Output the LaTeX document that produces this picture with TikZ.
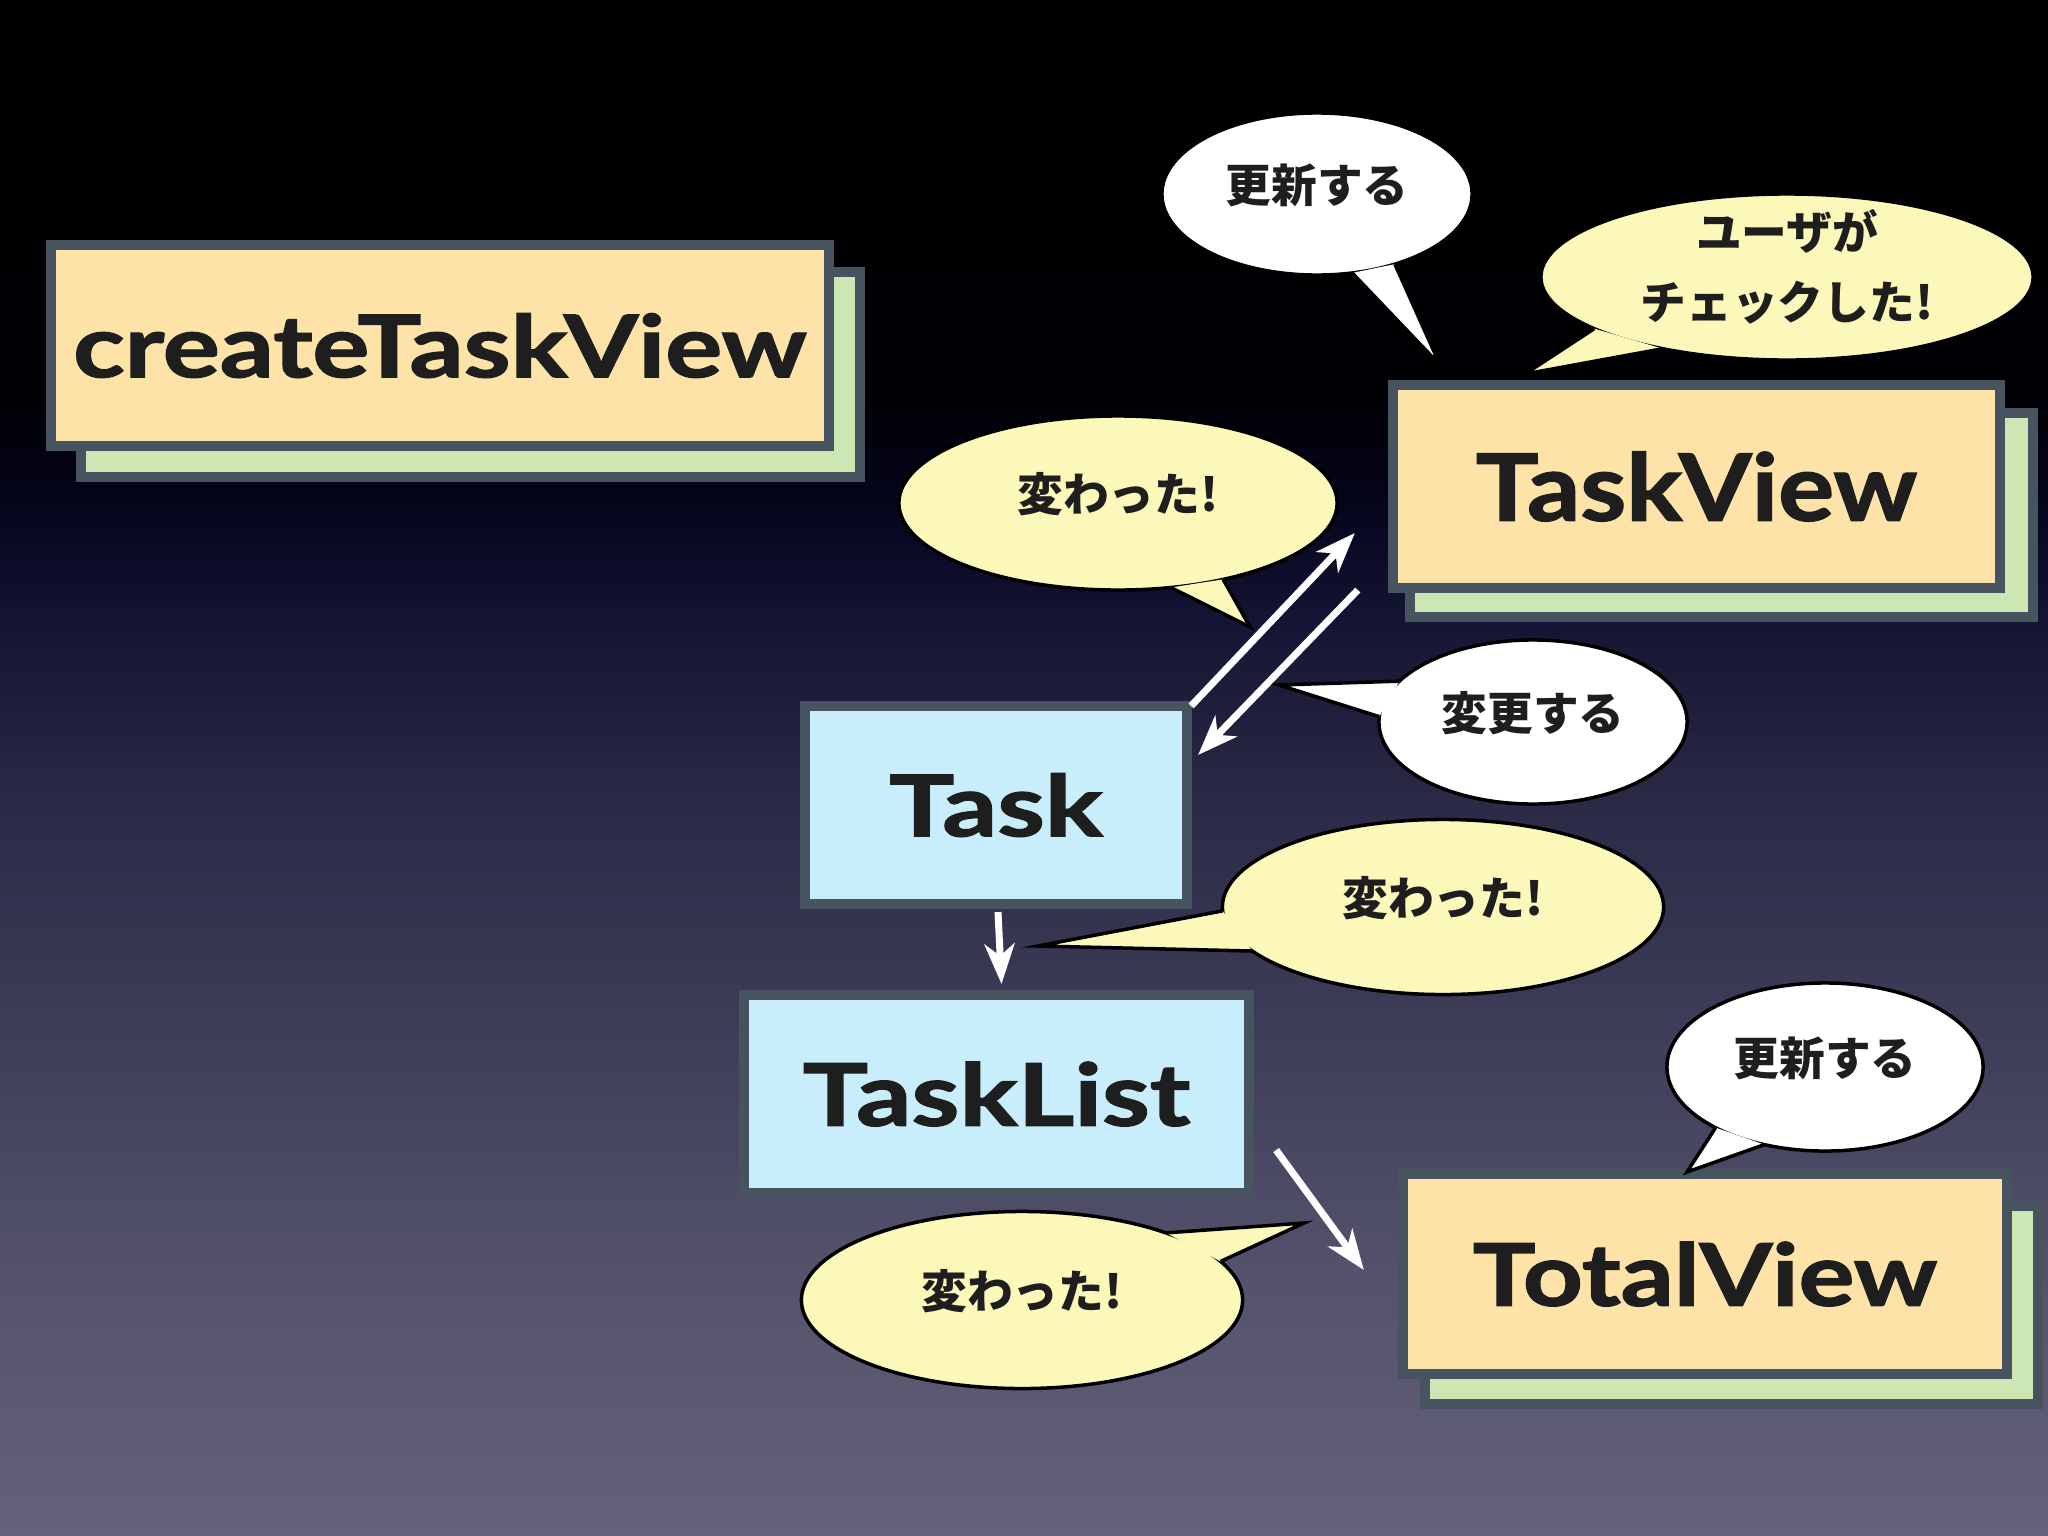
\documentclass[tikz,border=0pt]{standalone}
\usepackage{fontspec}
\usetikzlibrary{shapes.geometric,arrows.meta}
\newfontfamily\jpfont{Noto Sans CJK JP}
\newfontfamily\boxfont{Lato}[BoldFeatures={FakeBold=1.5}]
\newcommand\blabel[3]{\resizebox{#1}{#2}{\boxfont\bfseries #3}}
\definecolor{bgA}{HTML}{64627A}
\definecolor{bgB}{HTML}{56546D}
\definecolor{bgC}{HTML}{403F5A}
\definecolor{bgD}{HTML}{2A2A46}
\definecolor{bgE}{HTML}{131333}
\definecolor{bgF}{HTML}{05051C}
\definecolor{bgG}{HTML}{000005}
\definecolor{peach}{HTML}{FDE3A7}
\definecolor{mint}{HTML}{CDE7B4}
\definecolor{skyblue}{HTML}{C9EEFB}
\definecolor{boxline}{HTML}{47535E}
\definecolor{cream}{HTML}{FCF8BA}
\definecolor{ink}{HTML}{1E1E1E}
\pgfdeclareverticalshading{bgshade}{100bp}{color(0bp)=(bgA); color(25bp)=(bgA); color(32.7bp)=(bgB); color(40.8bp)=(bgC); color(49bp)=(bgD); color(55bp)=(bgE); color(58.6bp)=(bgF); color(62bp)=(bgG); color(75bp)=(black); color(100bp)=(black)}
\begin{document}
\begin{tikzpicture}[x=0.01cm,y=-0.01cm,
  boxbase/.style={rectangle, draw=boxline, line width=0.1cm, inner sep=0pt, text=ink},
  frontbox/.style={boxbase, fill=peach},
  backbox/.style={boxbase, fill=mint},
  bluebox/.style={boxbase, fill=skyblue},
  bubble/.style={ellipse, draw=black, line width=0.035cm, inner sep=0pt, outer sep=0pt},
  bubbleline/.style={draw=black, line width=0.035cm, line join=miter},
  btext/.style={text=ink, font=\jpfont\bfseries\fontsize{13pt}{20pt}\selectfont, align=center, inner sep=0pt},
  conn/.style={draw=white, line width=0.07cm, -{Stealth[length=0.4cm,width=0.3cm,inset=0.12cm]}}]
\useasboundingbox (0,0) rectangle (2048,1536);
\shade[shading=bgshade] (0,0) rectangle (2048,1536);

% boxes
\node[backbox, minimum width=7.79cm, minimum height=2.05cm] (ctvback) at (470.5,374.5) {};
\node[frontbox, minimum width=7.78cm, minimum height=2.01cm] (ctv) at (440,345.5) {\blabel{7.33cm}{0.64cm}{createTaskView}};

\node[backbox, minimum width=6.23cm, minimum height=2.04cm] (tvback) at (1721.5,515) {};
\node[frontbox, minimum width=6.07cm, minimum height=2.03cm] (taskview) at (1696.5,486.5) {\blabel{4.41cm}{0.69cm}{TaskView}};

\node[backbox, minimum width=6.13cm, minimum height=1.98cm] (totback) at (1731.5,1305) {};
\node[frontbox, minimum width=6.04cm, minimum height=2.00cm] (totalview) at (1705,1274) {\blabel{4.64cm}{0.64cm}{TotalView}};

\node[bluebox, minimum width=3.82cm, minimum height=1.98cm] (task) at (996,805) {\blabel{2.13cm}{0.63cm}{Task}};
\node[bluebox, minimum width=5.05cm, minimum height=1.98cm] (tasklist) at (996.5,1094) {\blabel{3.87cm}{0.64cm}{TaskList}};

% bubble 1: update (top)
\node[bubble, fill=white, minimum width=3.10cm, minimum height=1.62cm] (b1) at (1317,194) {};
\coordinate (b1tip) at (1440,365);
\fill[white] (b1.-66) -- (b1tip) -- (b1.-42) -- cycle;
\draw[bubbleline] (b1.-66) -- (b1tip) -- (b1.-42);
\node[btext] (b1t) at ([shift={(0,-9)}]b1.center) {更新する};

% bubble 2: user checked
\node[bubble, fill=cream, minimum width=4.92cm, minimum height=1.66cm] (b2) at (1787,277) {};
\coordinate (b2tip) at (1525,374);
\fill[cream] (b2.195) -- (b2tip) -- (b2.210) -- cycle;
\draw[bubbleline] (b2.195) -- (b2tip) -- (b2.210);
\node[btext] (b2t) at ([shift={(0,-10)}]b2.center) {ユーザが\\チェックした!};

% bubble 3: changed (top left)
\node[bubble, fill=cream, minimum width=4.38cm, minimum height=1.74cm] (b3) at (1118,503) {};
\coordinate (b3tip) at (1250,627);
\fill[cream] (b3.-58) -- (b3tip) -- (b3.-36) -- cycle;
\draw[bubbleline] (b3.-58) -- (b3tip) -- (b3.-36);
\node[btext] (b3t) at ([shift={(0,-9)}]b3.center) {変わった!};

% bubble 4: change
\node[bubble, fill=white, minimum width=3.08cm, minimum height=1.64cm] (b4) at (1533,722) {};
\coordinate (b4tip) at (1279,685);
\fill[white] (b4.163) -- (b4tip) -- (b4.178) -- cycle;
\draw[bubbleline] (b4.163) -- (b4tip) -- (b4.178);
\node[btext] (b4t) at ([shift={(0,-9)}]b4.center) {変更する};

% bubble 5: changed (middle)
\node[bubble, fill=cream, minimum width=4.41cm, minimum height=1.75cm] (b5) at (1443,907) {};
\coordinate (b5tip) at (1038,946);
\fill[cream] (b5.181) -- (b5tip) -- (b5.193) -- cycle;
\draw[bubbleline] (b5.181) -- (b5tip) -- (b5.193);
\node[btext] (b5t) at ([shift={(0,-9)}]b5.center) {変わった!};

% bubble 6: update (bottom)
\node[bubble, fill=white, minimum width=3.16cm, minimum height=1.68cm] (b6) at (1825,1067) {};
\coordinate (b6tip) at (1687,1172);
\fill[white] (b6.209) -- (b6tip) -- (b6.232) -- cycle;
\draw[bubbleline] (b6.209) -- (b6tip) -- (b6.232);
\node[btext] (b6t) at ([shift={(0,-9)}]b6.center) {更新する};

% bubble 7: changed (bottom)
\node[bubble, fill=cream, minimum width=4.41cm, minimum height=1.77cm] (b7) at (1022,1300) {};
\coordinate (b7tip) at (1304,1223);
\fill[cream] (b7.25) -- (b7tip) -- (b7.11) -- cycle;
\draw[bubbleline] (b7.25) -- (b7tip) -- (b7.11);
\node[btext] (b7t) at ([shift={(0,-9)}]b7.center) {変わった!};

% connectors
\draw[conn] ([shift={(-1,5)}]task.north east) -- ([shift={(-33,-60)}]taskview.south west);
\draw[conn] ([shift={(-30,-3)}]taskview.south west) -- ([shift={(6,54)}]task.north east);
\draw[conn] ([shift={(2,3)}]task.south) -- ([shift={(5,-6)}]tasklist.north);
\draw[conn] ([shift={(22,-48)}]tasklist.south east) -- ([shift={(-34,-4)}]totalview.west);
\end{tikzpicture}
\end{document}
